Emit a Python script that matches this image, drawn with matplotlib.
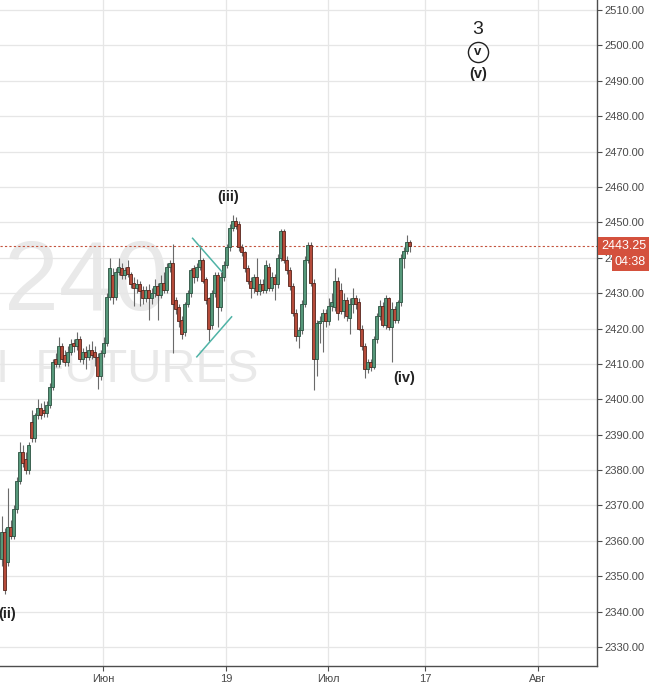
#-*- coding: utf-8 -*-
import matplotlib
# no display in the sandbox
matplotlib.use('Agg')
import matplotlib.pyplot as plt
import matplotlib.transforms as mtransforms
import numpy as np

plt.rcParams['font.family'] = ['Liberation Sans', 'DejaVu Sans']

# 240 minute bars (one bar every ~3 px)
opens = [2355, 2362.5, 2354, 2364, 2361.5, 2369, 2377, 2385, 2383, 2380,
         2393.5, 2389, 2395.5, 2397.5, 2397, 2396, 2398.5, 2403.5, 2411.5, 2410,
         2415, 2412.5, 2410.5, 2413.5, 2416, 2415, 2417, 2411.5, 2413.5, 2412,
         2414, 2413.5, 2412, 2406.5, 2413, 2416, 2429, 2435, 2429, 2436,
         2437, 2435, 2437.5, 2435.5, 2433, 2431.5, 2432.5, 2431, 2428.5, 2431,
         2428.5, 2430, 2432, 2429.5, 2433, 2431, 2437.5, 2438.5, 2428, 2426,
         2422.5, 2419, 2427, 2430, 2437, 2434.5, 2437.5, 2439.5, 2434, 2428.5,
         2421, 2430, 2435, 2426, 2434.5, 2438, 2443, 2448.5, 2450.5, 2449.5,
         2443, 2441.5, 2437, 2433.5, 2431.5, 2434.5, 2430.5, 2432.5, 2431, 2437.5,
         2431.5, 2434.5, 2432.5, 2440, 2447.5, 2439.5, 2436.5, 2432, 2424.5, 2418,
         2419.5, 2427, 2439.5, 2443.5, 2433, 2411.5, 2421.5, 2422, 2424.5, 2422,
         2426.5, 2426, 2433.5, 2431, 2425, 2428, 2423, 2427, 2428.5, 2427.5,
         2420, 2415, 2408.5, 2410.5, 2409, 2417, 2423.5, 2426.5, 2421, 2428.5,
         2420.5, 2425.5, 2422.5, 2427.5, 2440, 2442, 2444.5]
highs = [2367, 2363.5, 2375, 2366, 2370, 2378, 2388, 2387, 2385, 2388,
         2397, 2396, 2400, 2399, 2399.5, 2399.5, 2404.5, 2411.5, 2413, 2417.5,
         2416, 2414, 2415, 2417, 2417, 2419, 2418, 2414.5, 2415, 2415.5,
         2416.5, 2415, 2413, 2414, 2417.5, 2430, 2440, 2437, 2437, 2440,
         2438.5, 2437.5, 2439.5, 2436, 2434.5, 2434, 2433.5, 2432, 2432, 2432.5,
         2431.5, 2434, 2433, 2435, 2436, 2438.5, 2439.5, 2444, 2429, 2427,
         2423.5, 2427.5, 2431, 2437, 2438, 2438.5, 2443.5, 2440, 2434.5, 2429,
         2431, 2436, 2436, 2436, 2439, 2444, 2449.5, 2452, 2451.5, 2450.5,
         2444, 2442, 2438, 2434.5, 2435.5, 2440, 2434, 2434, 2439.5, 2438.5,
         2436, 2435.5, 2441, 2448, 2448, 2440.5, 2437.5, 2433, 2425.5, 2420.5,
         2428, 2440.5, 2444.5, 2444.5, 2434, 2422.5, 2423.5, 2425.5, 2425.5, 2428.5,
         2430, 2437, 2434.5, 2433, 2430, 2429, 2428.5, 2431.5, 2429.5, 2428.5,
         2421, 2416, 2411.5, 2411.5, 2418, 2424.5, 2428, 2427.5, 2429.5, 2429,
         2427.5, 2426.5, 2428, 2441, 2443, 2446.5, 2445]
lows = [2353, 2345, 2353, 2360.5, 2360.5, 2368, 2376, 2381, 2379, 2379,
        2388, 2388, 2394.5, 2394.5, 2395, 2395, 2397.5, 2402.5, 2409, 2409,
        2410.5, 2409.5, 2409.5, 2412.5, 2413.5, 2414, 2410.5, 2410, 2408.5, 2411,
        2411.5, 2409.5, 2403, 2405.5, 2412, 2415, 2428, 2427, 2428, 2435,
        2434, 2434, 2434.5, 2431.5, 2426.5, 2430, 2426.5, 2427, 2427.5, 2422.5,
        2427, 2429, 2422.5, 2428.5, 2430, 2430, 2436, 2413, 2424, 2420.5,
        2417, 2418, 2426, 2429, 2433, 2433.5, 2436.5, 2433, 2427, 2416.5,
        2420, 2429, 2420.5, 2425, 2433.5, 2437, 2442, 2447.5, 2448, 2442,
        2440.5, 2436, 2432.5, 2428.5, 2430, 2429.5, 2429.5, 2430, 2430, 2430.5,
        2430.5, 2428, 2431.5, 2439, 2438.5, 2435.5, 2431, 2423.5, 2416.5, 2414.5,
        2418.5, 2426, 2438.5, 2432, 2402.5, 2406.5, 2416, 2413.5, 2420.5, 2421,
        2425, 2425, 2422.5, 2424, 2423, 2422, 2418.5, 2424.5, 2425.5, 2419.5,
        2414, 2406, 2407.5, 2408, 2408.5, 2416, 2422.5, 2420.5, 2420, 2419.5,
        2410.5, 2421.5, 2421.5, 2426.5, 2437, 2441, 2441.5]
closes = [2362.5, 2346, 2364, 2361.5, 2369, 2377, 2385, 2382, 2380, 2387,
          2389, 2395.5, 2397.5, 2395.5, 2396, 2398.5, 2403.5, 2410.5, 2410, 2415,
          2411.5, 2410.5, 2413.5, 2415.5, 2415, 2417, 2411.5, 2413.5, 2412, 2414,
          2412.5, 2412, 2406.5, 2413, 2416, 2429, 2437, 2429, 2436, 2437.5,
          2435, 2436.5, 2435.5, 2432.5, 2431.5, 2432.5, 2430.5, 2428.5, 2431, 2428.5,
          2430, 2432, 2429.5, 2433, 2431, 2437.5, 2438.5, 2427, 2425.5, 2422,
          2418.5, 2427, 2430, 2436.5, 2434.5, 2437.5, 2439.5, 2433.5, 2428, 2420,
          2430, 2435, 2426, 2434.5, 2438, 2443, 2448.5, 2450.5, 2449, 2443,
          2441.5, 2437, 2433.5, 2431.5, 2434.5, 2430.5, 2432.5, 2431, 2438, 2431.5,
          2434.5, 2432.5, 2440, 2447.5, 2439.5, 2436.5, 2432, 2424.5, 2418, 2419.5,
          2427, 2439.5, 2443.5, 2433, 2411.5, 2421.5, 2422, 2424.5, 2422, 2426.5,
          2427.5, 2433.5, 2424.5, 2425, 2428, 2423.5, 2427, 2428.5, 2427, 2420,
          2415, 2408.5, 2410.5, 2409, 2417, 2423.5, 2426.5, 2421, 2428.5, 2420.5,
          2425.5, 2422.5, 2427.5, 2440, 2442, 2444.5, 2443.25]

# date ticks, as bar positions
tick_pos = [33.8, 74.8, 108.8, 141.2, 178.8]
tick_labels = [u'Июн', u'19', u'Июл', u'17', u'Авг']
price_ticks = np.arange(2330, 2511, 10)
last_price = 2443.25
countdown = u'04:38'

# wave labels (text, bar, price)
waves = [(u'(ii)', 2.0, 2339.3), (u'(iii)', 75.5, 2457.2),
         (u'(iv)', 134.2, 2406.0), (u'(v)', 158.8, 2491.9)]
wedge_upper = ([63.7, 73.4], [2445.5, 2436.1])
wedge_lower = ([65.1, 76.7], [2412.0, 2423.3])

fig = plt.figure(figsize=(6.51, 6.84), dpi=100)
ax = fig.add_axes([0.0, 18.0 / 684, 597.0 / 651, 666.0 / 684])

# watermark
ax.text(4.0 / 597, (666 - 310.0) / 666, u'240', transform=ax.transAxes,
        fontsize=71, color='#e9e9e9', ha='left', va='baseline', zorder=0)
ax.text(-4.0 / 597, (666 - 382.0) / 666, u'I  FUTURES', transform=ax.transAxes,
        fontsize=34, color='#e9e9e9', ha='left', va='baseline', zorder=0)

# candles
x = np.arange(len(closes))
o = np.asarray(opens, dtype=float)
c = np.asarray(closes, dtype=float)
up = c >= o
body_col = np.where(up, '#56987a', '#b54b3a')
edge_col = np.where(up, '#2b5140', '#56241c')
ax.vlines(x, lows, highs, color='#6a6a6a', lw=0.8, zorder=2)
ax.bar(x, np.maximum(np.abs(c - o), 0.3), bottom=np.minimum(o, c), width=0.75,
       color=body_col, edgecolor=edge_col, linewidth=0.6, zorder=3)

# wedge lines
ax.plot(wedge_upper[0], wedge_upper[1], color='#4fb3a6', lw=1.1, zorder=4)
ax.plot(wedge_lower[0], wedge_lower[1], color='#4fb3a6', lw=1.1, zorder=4)

# last price line
ax.axhline(last_price, color='#c4553f', lw=0.8, ls=(0, (2, 2)), zorder=1)

# wave labels
for txt, xi, yi in waves:
    ax.text(xi, yi, txt, fontsize=10.5, fontweight='bold', color='#222222',
            ha='center', va='center', zorder=5)
ax.text(158.8, 2504.4, u'3', fontsize=14, color='#222222', ha='center', va='center')
ax.plot([158.8], [2498.1], marker='o', ms=14.5, mfc='none', mec='#222222', mew=1.0)
ax.text(158.8, 2498.1, u'v', fontsize=9.5, fontweight='bold', color='#222222',
        ha='center', va='center')

# axes setup
ax.set_xlim(-0.5, 198.5)
ax.set_ylim(2324.64, 2512.83)
ax.set_xticks(tick_pos)
ax.set_xticklabels(tick_labels)
ax.set_yticks(price_ticks)
ax.set_yticklabels(['%.2f' % v for v in price_ticks])
ax.yaxis.tick_right()
ax.tick_params(axis='both', labelsize=8, labelcolor='#4a4a4a', color='#4d4d4d',
               length=3.5, width=0.8)
ax.tick_params(axis='x', pad=2)
ax.tick_params(axis='y', pad=1.5)
ax.grid(True, color='#e6e6e6', lw=0.9, zorder=0)
ax.set_axisbelow(True)
for side in ['top', 'left']:
    ax.spines[side].set_visible(False)
for side in ['right', 'bottom']:
    ax.spines[side].set_color('#4d4d4d')
    ax.spines[side].set_linewidth(1.0)

# price / countdown boxes on the scale
trans = mtransforms.blended_transform_factory(ax.transAxes, ax.transData)
ax.text(1.0067, last_price, '%.2f' % last_price, transform=trans, color='white',
        fontsize=9, ha='left', va='center', clip_on=False, zorder=10,
        bbox=dict(boxstyle='square,pad=0.22', fc='#d4513d', ec='none'))
ax.text(1.030, 2438.7, countdown, transform=trans, color='white',
        fontsize=9, ha='left', va='center', clip_on=False, zorder=11,
        bbox=dict(boxstyle='square,pad=0.22', fc='#d4513d', ec='none'))

fig.savefig('out.png', dpi=100)
